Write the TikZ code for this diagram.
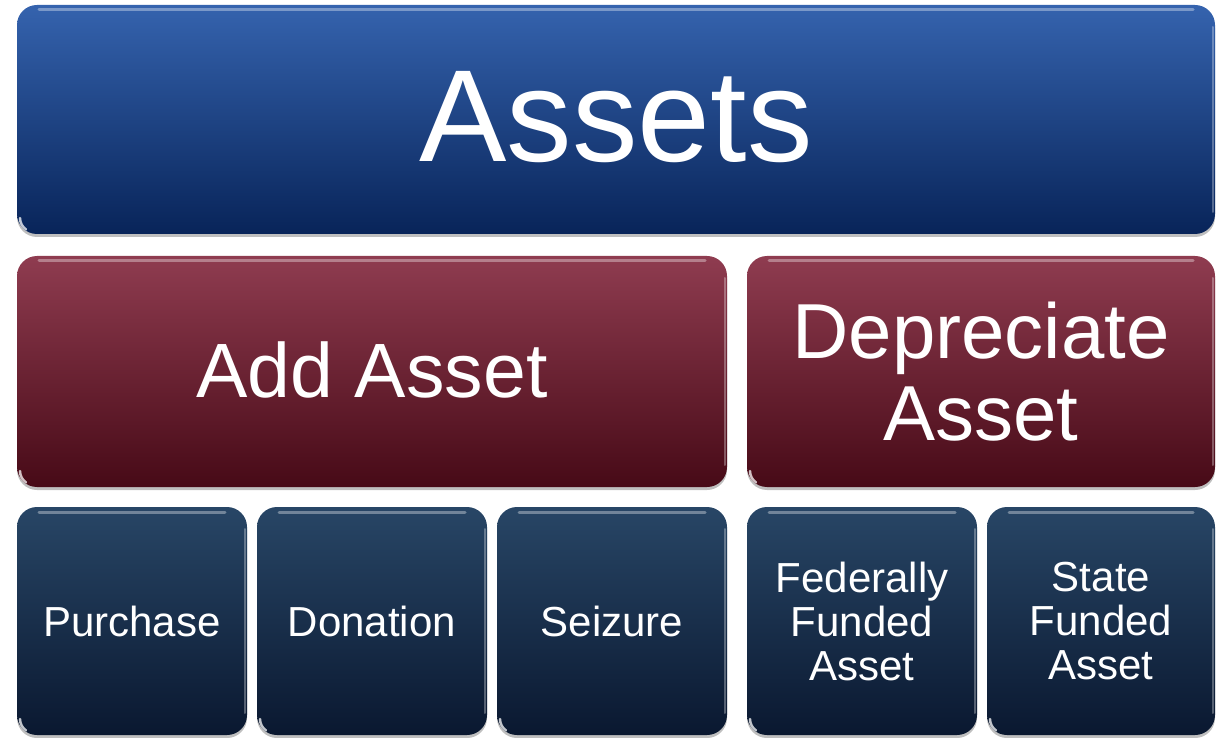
\documentclass[tikz,border=0pt]{standalone}
\usepackage{fontspec}
\setmainfont{Liberation Sans}
\usetikzlibrary{shadows}
\definecolor{blueTop}{HTML}{3563AE}
\definecolor{blueBot}{HTML}{082459}
\definecolor{redTop}{HTML}{8F3C50}
\definecolor{redBot}{HTML}{470A17}
\definecolor{navyTop}{HTML}{284666}
\definecolor{navyBot}{HTML}{0A1830}
\tikzset{
  gloss/.style={
    rounded corners=20pt, inner sep=0pt, text=white, align=center,
    drop shadow={shadow xshift=0pt, shadow yshift=-3pt, opacity=0.25, fill=black},
    path picture={
      \draw[white, opacity=0.35, line width=3pt, line cap=round]
        ([xshift=22pt,yshift=-5pt]path picture bounding box.north west) --
        ([xshift=-22pt,yshift=-5pt]path picture bounding box.north east);
      \draw[white, opacity=0.3, line width=2pt, line cap=round]
        ([xshift=-2pt,yshift=-22pt]path picture bounding box.north east) --
        ([xshift=-2pt,yshift=22pt]path picture bounding box.south east);
      \draw[white, opacity=0.75, line width=2.5pt, line cap=round]
        ([xshift=3pt,yshift=16pt]path picture bounding box.south west)
        arc[start angle=180, end angle=235, radius=14pt];
    }},
  bluebox/.style={gloss, top color=blueTop, bottom color=blueBot},
  redbox/.style={gloss, top color=redTop, bottom color=redBot},
  navybox/.style={gloss, top color=navyTop, bottom color=navyBot,
    minimum width=230pt, minimum height=228pt,
    font=\fontsize{42}{44}\selectfont},
}
\begin{document}
\begin{tikzpicture}[x=1pt,y=1pt]
\useasboundingbox (0,0) rectangle (1222,737);
\node[bluebox, minimum width=1198pt, minimum height=229pt,
  font=\fontsize{131}{136}\selectfont] (assets) at (616,617.5) {\raisebox{6pt}{Assets}};
\node[redbox, minimum width=710pt, minimum height=231pt,
  font=\fontsize{77}{82}\selectfont] (add) at (372,365.5) {\raisebox{4pt}{Add Asset}};
\node[redbox, minimum width=468pt, minimum height=231pt,
  font=\fontsize{78}{82}\selectfont] (dep) at (981,365.5) {Depreciate\\Asset};
\node[navybox] (purchase) at (132,116) {Purchase};
\node[navybox] (donation) at (372,116) {Donation};
\node[navybox] (seizure) at (612,116) {Seizure};
\node[navybox] (fed) at (862,116) {Federally\\Funded\\Asset};
\node[navybox, minimum width=228pt] (state) at (1101,116) {State\\Funded\\Asset};
\end{tikzpicture}
\end{document}
